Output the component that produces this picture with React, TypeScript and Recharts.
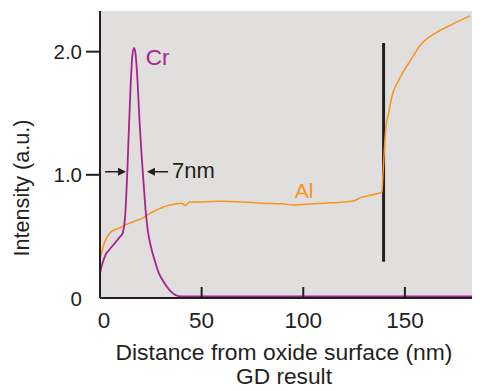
import { CartesianGrid, Line, LineChart, ReferenceDot, ReferenceLine, XAxis, YAxis } from "recharts"

const crX = [0, 1, 2, 3, 4, 5, 6, 7, 8, 9, 10, 11, 11.5, 12, 12.5, 13, 13.5, 14, 15, 16, 16.8, 17.5, 18.5, 19.5, 20.5, 21.5, 22.5, 23.5, 25, 27, 29, 31, 33, 35, 37, 40, 60, 100, 140, 183]
const crY = [0.2, 0.27, 0.32, 0.36, 0.38, 0.4, 0.42, 0.44, 0.46, 0.48, 0.5, 0.52, 0.55, 0.6, 0.7, 0.86, 1.05, 1.28, 1.7, 1.98, 2.03, 1.98, 1.75, 1.42, 1.15, 0.92, 0.7, 0.55, 0.42, 0.3, 0.2, 0.14, 0.09, 0.05, 0.025, 0.012, 0.012, 0.012, 0.012, 0.012]

const alX = [0, 1, 2, 3, 5, 8, 10, 12, 15, 18, 20, 23, 26, 30, 33, 36, 40, 42, 44, 50, 60, 70, 80, 90, 95, 100, 110, 120, 125, 129, 132, 137, 138.7, 139.2, 139.6, 140.6, 142, 143.5, 147, 152, 158, 165, 173, 182]
const alY = [0.31, 0.38, 0.44, 0.48, 0.53, 0.56, 0.57, 0.59, 0.61, 0.63, 0.64, 0.67, 0.7, 0.73, 0.75, 0.76, 0.77, 0.75, 0.78, 0.78, 0.785, 0.78, 0.77, 0.765, 0.755, 0.76, 0.77, 0.78, 0.79, 0.82, 0.83, 0.85, 0.86, 1.0, 1.12, 1.38, 1.5, 1.63, 1.77, 1.91, 2.06, 2.15, 2.22, 2.29]

// vertical marker at the oxide / metal interface
const markerX = [139.5, 139.5]
const markerY = [0.295, 2.07]

const xTicks = [0, 50, 100, 150]
const yTicks = [0, 1, 2]
const yTickLabels = ["0", "1.0", "2.0"]

const crData = crX.map((x, i) => ({ x, y: crY[i] }))
const alData = alX.map((x, i) => ({ x, y: alY[i] }))
const markerData = markerX.map((x, i) => ({ x, y: markerY[i] }))

const font = '"Liberation Sans", Arial, Helvetica, sans-serif'
const ink = "#231f20"
const crColor = "#a8238e"
const alColor = "#f7941d"

function XTick(props: any) {
  const { x, y, payload } = props
  const v = payload.value
  return (
    <g>
      {v !== 0 && <line x1={x} y1={y} x2={x} y2={y - 11} stroke={ink} strokeWidth={2} />}
      <text x={x + (v === 0 ? 4 : 0)} y={y + 22} textAnchor="middle" dominantBaseline="central" fontSize={22.5} fill={ink} fontFamily={font}>
        {v}
      </text>
    </g>
  )
}

function YTick(props: any) {
  const { x, y, payload } = props
  const v = payload.value
  return (
    <g>
      {v !== 0 && <line x1={x - 14} y1={y} x2={x} y2={y} stroke={ink} strokeWidth={2} />}
      <text x={x - 18} y={y} textAnchor="end" dominantBaseline="central" fontSize={20.5} fill={ink} fontFamily={font}>
        {yTickLabels[yTicks.indexOf(v)]}
      </text>
    </g>
  )
}

function XTitle(props: any) {
  const { viewBox } = props
  const cx = viewBox.x + viewBox.width / 2 - 2
  return (
    <g fontFamily={font} fontSize={22} fill={ink} textAnchor="middle">
      <text x={cx} y={viewBox.y + 54} dominantBaseline="central" textLength={337} lengthAdjust="spacingAndGlyphs">
        Distance from oxide surface (nm)
      </text>
      <text x={cx} y={viewBox.y + 78} dominantBaseline="central" textLength={96} lengthAdjust="spacingAndGlyphs">
        GD result
      </text>
    </g>
  )
}

function YTitle() {
  return (
    <text x={22} y={188} transform="rotate(-90 22 188)" textAnchor="middle" dominantBaseline="central" fontFamily={font} fontSize={21.5} fill={ink} textLength={137} lengthAdjust="spacingAndGlyphs">
      Intensity (a.u.)
    </text>
  )
}

function Arrow(props: any) {
  const { x1, y1, x2, y2 } = props
  const dir = x2 > x1 ? 1 : -1
  return (
    <g>
      <line x1={x1} y1={y1} x2={x2 - dir * 6} y2={y2} stroke={ink} strokeWidth={1.5} />
      <polygon points={`${x2},${y2} ${x2 - dir * 8},${y2 - 4} ${x2 - dir * 8},${y2 + 4}`} fill={ink} />
    </g>
  )
}

export default function App() {
  return (
    <div style={{ position: "absolute", left: 0, top: 0 }}>
      <LineChart width={489} height={391} margin={{ top: 11, right: 17, left: 0, bottom: 0 }}>
        <CartesianGrid fill="#e0dfde" stroke="none" horizontal={false} vertical={false} />
        <XAxis
          dataKey="x"
          type="number"
          domain={[0, 183]}
          ticks={xTicks}
          allowDataOverflow
          tickLine={false}
          tickSize={0}
          tickMargin={0}
          axisLine={{ stroke: ink, strokeWidth: 2 }}
          tick={XTick}
          height={93}
          label={<XTitle />}
        />
        <YAxis
          type="number"
          domain={[0, 2.33]}
          ticks={yTicks}
          allowDataOverflow
          tickLine={false}
          tickSize={0}
          tickMargin={0}
          axisLine={{ stroke: ink, strokeWidth: 2 }}
          tick={YTick}
          width={100}
          label={<YTitle />}
        />
        <Line data={markerData} dataKey="y" type="linear" stroke={ink} strokeWidth={3} dot={false} isAnimationActive={false} />
        <Line data={alData} dataKey="y" type="monotone" stroke={alColor} strokeWidth={1.5} dot={false} isAnimationActive={false} />
        <Line data={crData} dataKey="y" type="monotone" stroke={crColor} strokeWidth={1.8} dot={false} isAnimationActive={false} />
        <ReferenceLine segment={[{ x: 2.5, y: 1.025 }, { x: 12.8, y: 1.025 }]} shape={Arrow} />
        <ReferenceLine segment={[{ x: 33.5, y: 1.025 }, { x: 23.1, y: 1.025 }]} shape={Arrow} />
        <ReferenceDot x={28.3} y={1.96} r={1} fill="none" stroke="none" label={{ value: "Cr", position: "center", fill: crColor, fontSize: 22.5, fontFamily: font }} />
        <ReferenceDot x={100.4} y={0.874} r={1} fill="none" stroke="none" label={{ value: "Al", position: "center", fill: alColor, fontSize: 21, fontFamily: font }} />
        <ReferenceDot x={46} y={1.04} r={1} fill="none" stroke="none" label={{ value: "7nm", position: "center", fill: ink, fontSize: 22, fontFamily: font }} />
      </LineChart>
    </div>
  )
}
